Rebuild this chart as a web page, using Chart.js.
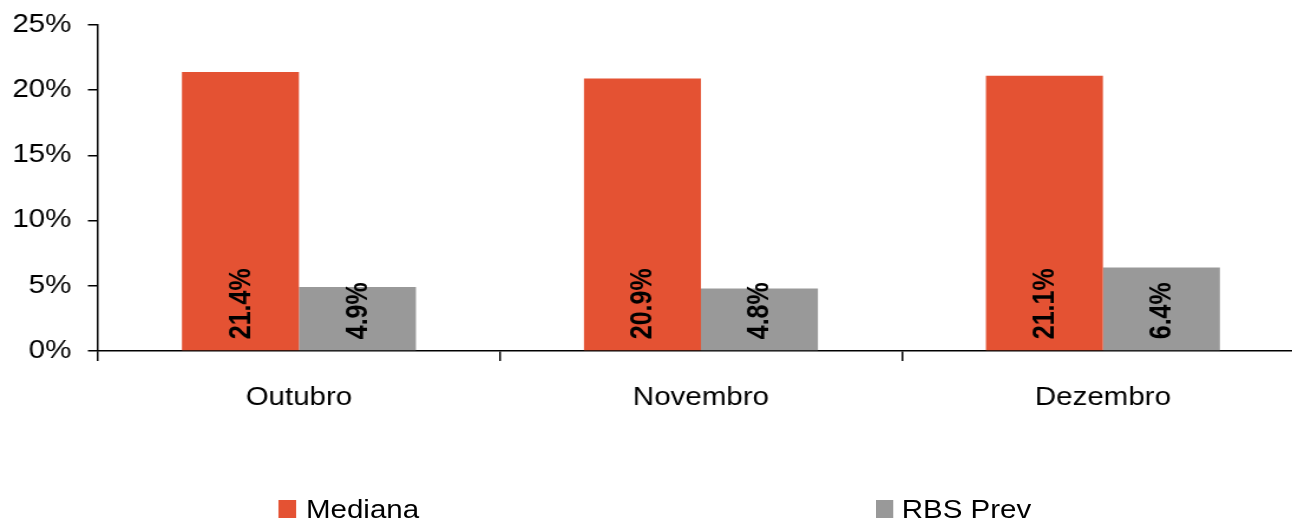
<!DOCTYPE html>
<html lang="pt-BR">
<head>
    <meta charset="UTF-8">
    <title>Mediana x RBS Prev</title>
    <style>
        html, body {
            margin: 0;
            padding: 0;
            width: 1292px;
            height: 520px;
            overflow: hidden;
            background: #fff;
        }
        /* the reference is a bit wider than tall, so the whole drawing is stretched */
        .wrap {
            position: relative;
            width: 1108px;
            height: 520px;
            transform: scaleX(1.18);
            transform-origin: 0 0;
        }
        canvas {
            display: block;
        }
        .legend-box {
            position: absolute;
            top: 500px;
            width: 15.3px;
            height: 18px;
        }
        .legend-text {
            position: absolute;
            top: 497px;
            font-family: "Liberation Sans", Arial, sans-serif;
            font-size: 25px;
            line-height: 25px;
            color: #000;
            white-space: nowrap;
        }
    </style>
    <script src="https://cdn.jsdelivr.net/npm/chart.js@4.4.0/dist/chart.umd.min.js"></script>
</head>
<body>
    <div class="wrap" id="wrap">
        <canvas id="chart" width="1108" height="520" style="width:1108px;height:520px"></canvas>
    </div>

    <script>
        // 数据
        const categories = ['Outubro', 'Novembro', 'Dezembro'];
        const mediana = [21.4, 20.9, 21.1];
        const rbsPrev = [4.9, 4.8, 6.4];
        const yMin = 0;
        const yMax = 25;
        const yStep = 5;

        const ORANGE = '#E45233';
        const GREY = '#999999';
        const FONT = '"Liberation Sans", Arial, sans-serif';

        // rotated value labels at the foot of each bar
        const barLabels = {
            id: 'barLabels',
            afterDatasetsDraw(chart) {
                const ctx = chart.ctx;
                chart.data.datasets.forEach((ds, i) => {
                    chart.getDatasetMeta(i).data.forEach((bar, j) => {
                        ctx.save();
                        ctx.translate(bar.x, bar.base - 11);
                        ctx.rotate(-Math.PI / 2);
                        ctx.font = 'bold 25px ' + FONT;
                        ctx.fillStyle = '#000';
                        ctx.textAlign = 'left';
                        ctx.textBaseline = 'middle';
                        ctx.fillText(ds.data[j].toFixed(1) + '%', 0, 1);
                        ctx.restore();
                    });
                });
            }
        };

        const chart = new Chart(document.getElementById('chart'), {
            type: 'bar',
            data: {
                labels: categories,
                datasets: [
                    { label: 'Mediana', data: mediana, backgroundColor: ORANGE },
                    { label: 'RBS Prev', data: rbsPrev, backgroundColor: GREY }
                ]
            },
            options: {
                responsive: false,
                animation: false,
                devicePixelRatio: 1,
                layout: { padding: { top: 25, right: 3, bottom: 109, left: 0 } },
                datasets: {
                    bar: { categoryPercentage: 0.582, barPercentage: 1.0 }
                },
                plugins: {
                    legend: { display: false },
                    tooltip: { enabled: false }
                },
                scales: {
                    x: {
                        grid: {
                            drawOnChartArea: false,
                            drawTicks: true,
                            tickLength: 10,
                            color: '#000',
                            lineWidth: 1.5
                        },
                        border: { color: '#000', width: 1.5 },
                        ticks: {
                            color: '#000',
                            font: { family: FONT, size: 25 },
                            padding: 22,
                            maxRotation: 0
                        },
                        afterFit(scale) { scale.height = 60; }
                    },
                    y: {
                        min: yMin,
                        max: yMax,
                        grid: {
                            drawOnChartArea: false,
                            drawTicks: true,
                            tickLength: 8.5,
                            color: '#000',
                            lineWidth: 1.5
                        },
                        border: { color: '#000', width: 1.5 },
                        ticks: {
                            stepSize: yStep,
                            color: '#000',
                            font: { family: FONT, size: 25 },
                            padding: 14,
                            callback: v => v + '%'
                        },
                        afterFit(scale) {
                            scale.width = 83;
                            scale.paddingTop = 0;
                        }
                    }
                }
            },
            plugins: [barLabels]
        });

        // legend spread out like the original
        const legendPos = [[235.8, 259.3], [741.5, 764.2]];
        const wrap = document.getElementById('wrap');
        chart.data.datasets.forEach((ds, i) => {
            const box = document.createElement('div');
            box.className = 'legend-box';
            box.style.left = legendPos[i][0] + 'px';
            box.style.background = ds.backgroundColor;
            wrap.appendChild(box);
            const txt = document.createElement('div');
            txt.className = 'legend-text';
            txt.style.left = legendPos[i][1] + 'px';
            txt.textContent = ds.label;
            wrap.appendChild(txt);
        });
    </script>
</body>
</html>
